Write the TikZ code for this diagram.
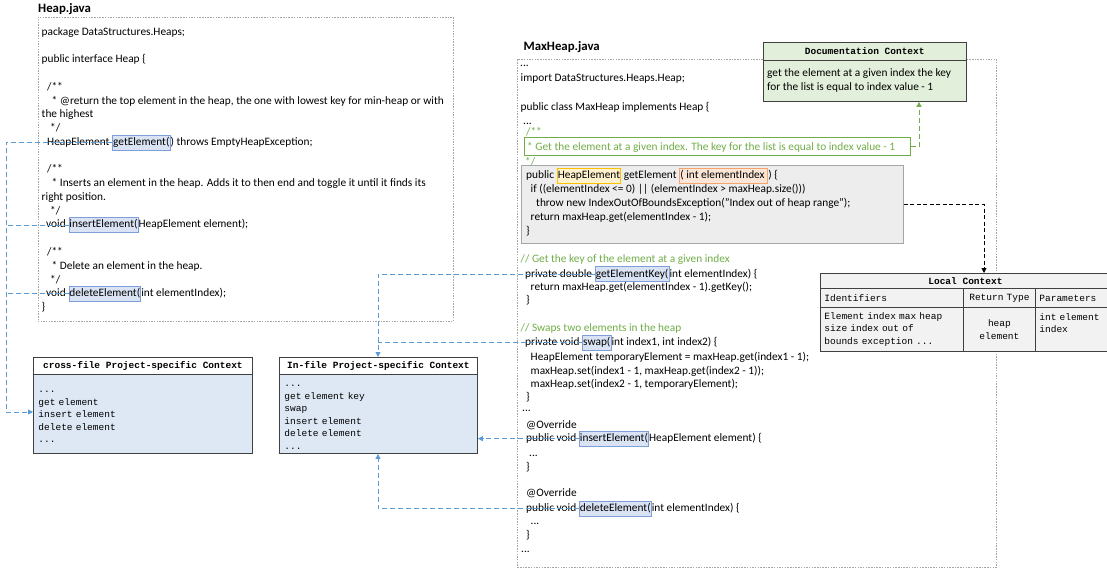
\documentclass[tikz,border=0pt]{standalone}
\usepackage{fontspec}
\setmainfont{Carlito}
\setmonofont{Liberation Mono}
\usetikzlibrary{arrows.meta}

\definecolor{cblue}{HTML}{5B9BD5}
\definecolor{cgreen}{HTML}{70AD47}
\definecolor{hlfill}{HTML}{DAE3F3}
\definecolor{hldraw}{HTML}{7F9FD8}
\definecolor{yfill}{HTML}{FFF2CC}
\definecolor{ydraw}{HTML}{FFC000}
\definecolor{ofill}{HTML}{FBE5D6}
\definecolor{odraw}{HTML}{F4A46C}
\definecolor{ctxblue}{HTML}{DEE8F4}
\definecolor{ctxgreen}{HTML}{E2EFDA}
\definecolor{ctxgray}{HTML}{F2F2F2}
\definecolor{boxline}{HTML}{404040}
\definecolor{filebord}{HTML}{A6A6A6}
\definecolor{codegray}{HTML}{EDEDED}

\newcommand\codef{\fontsize{11.35}{13.75}\selectfont}
\newcommand\monof{\ttfamily\fontsize{9.5}{12.5}\selectfont}
\newcommand\trsp{\ \mbox{}}

\begin{document}
\begin{tikzpicture}[x=1pt,y=-1pt,
  code/.style={font=\codef, inner sep=0pt, anchor=base west, text=black},
  cmt/.style={code, text=cgreen},
  title/.style={font=\fontsize{12.8}{15}\selectfont\bfseries, inner sep=0pt, anchor=base west},
  hl/.style={font=\codef, anchor=base west, inner xsep=0.6pt, inner ysep=2pt, text height=8.3pt, text depth=2.6pt, fill=hlfill, draw=hldraw, line width=0.7pt},
  hly/.style={hl, fill=yfill, draw=ydraw},
  hlo/.style={hl, fill=ofill, draw=odraw},
  filebox/.style={draw=filebord, dash pattern=on 1.5pt off 1.2pt, line width=0.6pt, anchor=north west, inner sep=0pt},
  ctxh/.style={draw=boxline, line width=0.9pt, fill=white, font=\monof\bfseries, anchor=north west, inner sep=0pt},
  ctxb/.style={draw=boxline, line width=0.9pt, fill=ctxblue, font=\monof, anchor=north west, inner xsep=5pt, inner ysep=0pt, align=left},
  cell/.style={draw=boxline, line width=0.8pt, fill=ctxgray, font=\monof, anchor=north west, inner xsep=4pt, inner ysep=0pt, align=left},
  bconn/.style={draw=cblue, line width=0.9pt, dash pattern=on 5pt off 3pt},
  gconn/.style={draw=cgreen, line width=1pt, dash pattern=on 5pt off 3pt},
  kconn/.style={draw=black, line width=0.8pt, dash pattern=on 4pt off 2.5pt},
  tip/.style={-{Triangle[length=5pt,width=5pt]}}
]
\useasboundingbox (0,0) rectangle (1107,569);

% ---------------- Heap.java ----------------
\node[title] (t1) at (38,12.5) {Heap.java};
\node[filebox, minimum width=415.5pt, minimum height=304pt] (heapbox) at (37.5,17) {};
\node[code] (h0) at (41.5,35.5) {package DataStructures.Heaps;};
\node[code] (h2) at (41.5,63) {public interface Heap \{};
\node[code] (h4) at (47,90.5) {/**};
\node[code] (h5) at (51.5,104.25) {* @return the top element in the heap, the one with lowest key for min-heap or with};
\node[code] (h6) at (41.5,118) {the highest};
\node[code] (h7) at (50,131.75) {*/};
\node[code] (h8a) at (47,145.5) {HeapElement\trsp};
\node[hl] (hGE) at (h8a.base east) {getElement(};
\node[code] (h8b) at (hGE.base east) {) throws EmptyHeapException;};
\node[code] (h10) at (47,173) {/**};
\node[code] (h11) at (51.5,186.75) {* Inserts an element in the heap. Adds it to then end and toggle it until it finds its};
\node[code] (h12) at (41.5,200.5) {right position.};
\node[code] (h13) at (50,214.25) {*/};
\node[code] (h14a) at (46,228) {void\trsp};
\node[hl] (hIE) at (h14a.base east) {insertElement(};
\node[code] (h14b) at (hIE.base east) {HeapElement element);};
\node[code] (h16) at (47,255.5) {/**};
\node[code] (h17) at (51.5,269.25) {* Delete an element in the heap.};
\node[code] (h18) at (50,283) {*/};
\node[code] (h19a) at (46,296.75) {void\trsp};
\node[hl] (hDE) at (h19a.base east) {deleteElement(};
\node[code] (h19b) at (hDE.base east) {int elementIndex);};
\node[code] (h20) at (41.5,310.5) {\}};

% ---------------- MaxHeap.java ----------------
\node[title] (t2) at (523.5,51) {MaxHeap.java};
\node[filebox, minimum width=479pt, minimum height=508pt] (maxbox) at (517,59) {};
\node[code] (m0) at (520,67) {...};
\node[code] (m1) at (520.5,81.5) {import DataStructures.Heaps.Heap;};
\node[code] (m3) at (520.5,110.5) {public class MaxHeap implements Heap \{};
\node[code] (m4) at (523,125) {...};
\node[cmt] (m5) at (526,136) {/**};
\node[draw=cgreen, line width=0.8pt, anchor=north west, minimum width=386pt, minimum height=18pt, inner sep=0pt] (gcbox) at (524,137) {};
\node[cmt] (m6) at (527,151) {* Get the element at a given index. The key for the list is equal to index value - 1};
\node[cmt] (m7) at (525,166) {*/};
\node[draw=filebord, fill=codegray, line width=0.8pt, anchor=north west, minimum width=382pt, minimum height=78pt, inner sep=0pt] (gbox) at (521,165) {};
\node[code] (g1a) at (526,178.5) {public\trsp};
\node[hly] (hHE) at (g1a.base east) {HeapElement};
\node[code] (g1b) at (hHE.base east) {\ getElement\trsp};
\node[hlo] (hEI) at (g1b.base east) {(\ int elementIndex\trsp};
\node[code] (g1c) at (hEI.base east) {) \{};
\node[code] (g2) at (530.5,192.5) {if ((elementIndex <= 0) || (elementIndex > maxHeap.size()))};
\node[code] (g3) at (536,206.5) {throw new IndexOutOfBoundsException("Index out of heap range");};
\node[code] (g4) at (530.5,220.5) {return maxHeap.get(elementIndex - 1);};
\node[code] (g5) at (526,234.5) {\}};

\node[cmt] (k0) at (520.5,262.5) {// Get the key of the element at a given index};
\node[code] (k1a) at (525,277) {private double\trsp};
\node[hl] (hGEK) at (k1a.base east) {getElementKey(};
\node[code] (k1b) at (hGEK.base east) {int elementIndex) \{};
\node[code] (k2) at (530.5,290.5) {return maxHeap.get(elementIndex - 1).getKey();};
\node[code] (k3) at (526,303.5) {\}};

\node[cmt] (s0) at (520.5,331) {// Swaps two elements in the heap};
\node[code] (s1a) at (525,345.5) {private void\trsp};
\node[hl] (hSW) at (s1a.base east) {swap(};
\node[code] (s1b) at (hSW.base east) {int index1, int index2) \{};
\node[code] (s2) at (530.5,360) {HeapElement temporaryElement = maxHeap.get(index1 - 1);};
\node[code] (s3) at (530.5,374) {maxHeap.set(index1 - 1, maxHeap.get(index2 - 1));};
\node[code] (s4) at (530.5,387.5) {maxHeap.set(index2 - 1, temporaryElement);};
\node[code] (s5) at (526,400) {\}};
\node[code] (s6) at (522,411) {...};

\node[code] (i0) at (526,428.5) {@Override};
\node[code] (i1a) at (526,441.5) {public void\trsp};
\node[hl] (hIE2) at (i1a.base east) {insertElement(};
\node[code] (i1b) at (hIE2.base east) {HeapElement element) \{};
\node[code] (i2) at (529,456) {...};
\node[code] (i3) at (526,470) {\}};

\node[code] (d0) at (526,496) {@Override};
\node[code] (d1a) at (526,511.5) {public void\trsp};
\node[hl] (hDE2) at (d1a.base east) {deleteElement(};
\node[code] (d1b) at (hDE2.base east) {int elementIndex) \{};
\node[code] (d2) at (530.5,524.5) {...};
\node[code] (d3) at (526,538.5) {\}};
\node[code] (d4) at (521,552) {...};

% ---------------- Documentation Context ----------------
\node[ctxh, fill=ctxgreen, minimum width=202.5pt, minimum height=18pt] (doch) at (763,42) {Documentation Context};
\node[ctxh, fill=ctxgreen, minimum width=202.5pt, minimum height=41pt] (docb) at (763,60) {};
\node[code] (dt1) at (767,76.5) {get the element at a given index the key};
\node[code] (dt2) at (767,90.5) {for the list is equal to index value - 1};

% ---------------- Local Context ----------------
\node[cell, font=\monof\bfseries, align=center, minimum width=290pt, minimum height=15pt] (loch) at (820,273) {Local Context};
\node[cell, text width=135pt, minimum height=19pt] (l21) at (820,288) {Identifiers};
\node[cell, text width=64pt, align=center, minimum height=19pt] (l22) at (963,288) {Return Type};
\node[cell, text width=67pt, minimum height=19pt] (l23) at (1035,288) {Parameters};
\node[cell, text width=135pt, minimum height=44pt] (l31) at (820,307) {Element index max heap\\size index out of\\bounds exception ...};
\node[cell, text width=64pt, align=center, minimum height=44pt] (l32) at (963,307) {heap\\element};
\node[cell, text width=67pt, minimum height=44pt] (l33) at (1035,307) {int element\\index\\\phantom{x}};

% ---------------- Project-specific contexts ----------------
\node[ctxh, minimum width=219pt, minimum height=17pt] (crossh) at (33,357) {cross-file Project-specific Context};
\node[ctxb, text width=209pt, minimum height=79pt] (crossb) at (33,374) {\rule{0pt}{8pt}...\\get element\\insert element\\delete element\\...};
\node[ctxh, minimum width=198pt, minimum height=17pt] (infh) at (279,357) {In-file Project-specific Context};
\node[ctxb, text width=188pt, minimum height=79pt] (infb) at (279,374) {\rule{0pt}{8pt}...\\get element key\\swap\\insert element\\delete element\\...};

% ---------------- connectors ----------------
\coordinate (L) at (6,412);
\coordinate (IX) at (378,0);
\coordinate (GX) at (919,0);
\coordinate (KX) at (984,0);

\draw[bconn,tip] (hGE.west) -| (L) -- (L -| crossb.west);
\draw[bconn] (hIE.west) -- (hIE.west -| L);
\draw[bconn] (hDE.west) -- (hDE.west -| L);

\draw[bconn,tip] (hGEK.west) -| (IX |- infh.north);
\draw[bconn] (hSW.west) -- (hSW.west -| IX);
\draw[bconn,tip] (hIE2.west) -- (hIE2.west -| infb.east);
\draw[bconn,tip] (hDE2.west) -| (IX |- infb.south);

\draw[gconn,tip] (gcbox.east) -| (GX |- docb.south);
\draw[kconn,tip] (gbox.east) -| (KX |- loch.north);
\end{tikzpicture}
\end{document}
